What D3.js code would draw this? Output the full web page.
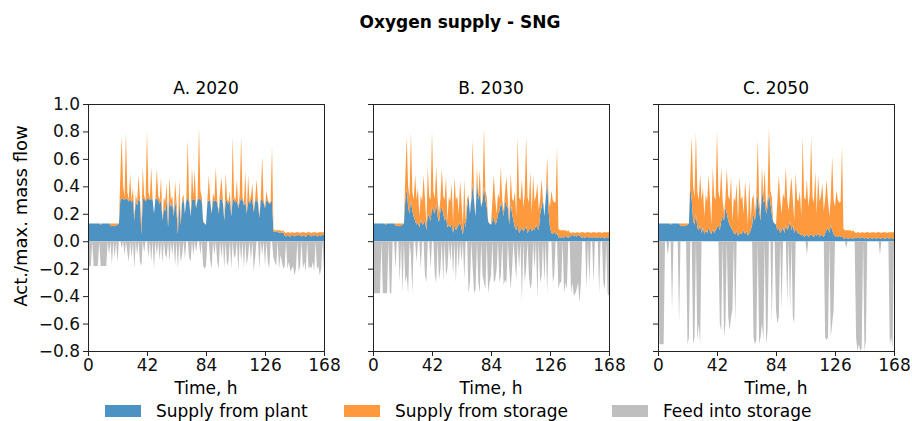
<!DOCTYPE html>
<html>
<head>
<meta charset="utf-8">
<script src="https://cdn.jsdelivr.net/npm/d3@7"></script>
<style>
  body { margin: 0; background: #fff; }
  text { font-family: "DejaVu Sans", sans-serif; }
</style>
</head>
<body>
<svg id="chart" width="912" height="421"></svg>
<script>
// hourly values, hour 0..168
// total oxygen demand (top of the stack), same for all three years
const demand = [
  .13,.13,.13,.13,.13,.13,.13,.13,.13,.13,
  .13,.13,.13,.13,.13,.13,.13,.13,.13,.13,
  .13,.13,.13,.47,.76,.40,.32,.79,.36,.30,
  .49,.30,.39,.18,.34,.29,.48,.31,.12,.54,
  .33,.30,.80,.36,.31,.54,.30,.20,.31,.53,
  .33,.30,.47,.15,.32,.29,.42,.14,.47,.30,
  .33,.20,.44,.29,.12,.45,.15,.31,.34,.20,
  .32,.74,.30,.18,.54,.33,.52,.25,.31,.83,
  .37,.32,.15,.13,.12,.30,.48,.31,.20,.35,
  .31,.54,.30,.22,.36,.47,.30,.15,.50,.31,
  .29,.36,.18,.76,.32,.30,.45,.25,.34,.76,
  .32,.28,.51,.20,.48,.29,.33,.42,.22,.31,
  .45,.30,.18,.32,.62,.30,.25,.37,.30,.28,
  .29,.69,.09,.08,.08,.08,.08,.08,.07,.08,
  .065,.06,.065,.065,.06,.065,.065,.06,.065,.065,
  .065,.06,.065,.065,.065,.06,.065,.065,.065,.06,
  .065,.065,.065,.06,.065,.065,.065,.065,.065
];

// supply from plant
const plant2020 = [
  .13,.13,.13,.13,.13,.13,.13,.13,.13,.12,
  .13,.13,.13,.13,.13,.13,.115,.11,.115,.11,
  .115,.12,.13,.30,.31,.31,.30,.31,.31,.29,
  .31,.28,.31,.15,.30,.26,.31,.29,.05,.31,
  .31,.29,.31,.31,.30,.31,.30,.20,.31,.31,
  .30,.27,.31,.15,.24,.22,.30,.10,.31,.25,
  .28,.18,.30,.22,.05,.30,.12,.28,.31,.20,
  .30,.31,.29,.18,.31,.30,.31,.24,.30,.31,
  .31,.29,.14,.13,.12,.28,.30,.29,.20,.30,
  .29,.30,.28,.20,.30,.31,.28,.15,.30,.29,
  .27,.30,.18,.31,.30,.28,.30,.24,.29,.31,
  .30,.26,.30,.20,.30,.27,.30,.30,.21,.29,
  .30,.28,.17,.30,.30,.28,.24,.30,.29,.27,
  .28,.30,.07,.07,.065,.07,.06,.065,.06,.065,
  .04,.035,.045,.04,.03,.05,.04,.035,.045,.04,
  .05,.04,.035,.045,.04,.03,.045,.05,.04,.035,
  .045,.04,.05,.035,.04,.045,.04,.05,.045
];
const plant2030 = [
  .13,.13,.13,.13,.13,.13,.13,.13,.13,.12,
  .13,.13,.13,.13,.13,.13,.115,.11,.115,.11,
  .115,.12,.13,.30,.38,.25,.20,.30,.22,.18,
  .15,.12,.14,.10,.16,.12,.13,.15,.08,.20,
  .18,.15,.25,.22,.20,.28,.18,.14,.22,.25,
  .20,.15,.18,.10,.12,.10,.13,.06,.12,.08,
  .10,.12,.14,.09,.05,.15,.10,.25,.33,.20,
  .30,.42,.28,.18,.45,.30,.35,.25,.29,.40,
  .30,.25,.14,.13,.12,.15,.18,.12,.14,.20,
  .22,.28,.25,.18,.30,.26,.24,.12,.28,.20,
  .15,.10,.08,.12,.06,.08,.10,.07,.09,.11,
  .06,.08,.10,.07,.09,.08,.12,.10,.08,.20,
  .25,.30,.18,.32,.45,.22,.10,.06,.05,.07,
  .05,.06,.025,.03,.025,.03,.025,.04,.03,.025,
  .03,.04,.05,.035,.045,.03,.05,.04,.03,.025,
  .03,.025,.03,.03,.025,.03,.025,.03,.025,.03,
  .025,.03,.025,.03,.025,.02,.03,.025,.03
];
const plant2050 = [
  .13,.13,.13,.13,.13,.13,.13,.13,.13,.12,
  .13,.13,.13,.13,.13,.13,.115,.11,.115,.11,
  .115,.12,.13,.40,.30,.15,.12,.20,.10,.08,
  .12,.06,.10,.05,.08,.06,.10,.07,.05,.09,
  .06,.08,.10,.12,.08,.15,.18,.15,.25,.20,
  .15,.12,.10,.08,.06,.05,.07,.04,.06,.05,
  .06,.08,.05,.07,.04,.06,.08,.12,.20,.15,
  .25,.35,.22,.15,.40,.28,.30,.20,.25,.35,
  .28,.20,.14,.13,.12,.08,.10,.06,.08,.10,
  .06,.12,.08,.10,.15,.08,.12,.06,.09,.07,
  .05,.06,.04,.05,.03,.04,.05,.03,.04,.05,
  .04,.03,.05,.04,.06,.03,.05,.04,.03,.06,
  .08,.10,.06,.12,.08,.05,.04,.03,.03,.04,
  .03,.04,.02,.02,.025,.02,.02,.025,.02,.02,
  .025,.02,.03,.025,.02,.03,.025,.02,.025,.02,
  .02,.025,.02,.02,.025,.02,.02,.025,.02,.02,
  .025,.02,.02,.025,.02,.02,.025,.02,.02
];

// feed into storage (negative)
const feed2020 = [
  -.18,-.18,-.18,0,-.18,-.18,-.18,-.18,0,-.18,
  -.18,-.18,-.18,-.18,0,-.1,0,-.17,0,-.12,
  0,-.15,0,0,-.05,0,-.1,0,-.08,-.15,
  0,-.12,0,-.2,0,-.1,0,-.15,-.18,0,
  -.08,0,0,-.12,0,-.15,0,-.2,0,-.1,
  0,-.14,0,-.16,0,-.1,-.12,0,-.15,0,
  -.1,0,-.18,0,-.2,0,-.15,-.1,0,-.13,
  0,0,-.12,-.15,0,-.1,0,-.08,0,0,
  -.1,0,-.18,-.2,-.18,0,0,-.14,-.2,0,
  -.1,0,-.15,-.2,0,-.12,0,-.2,0,-.18,
  -.15,0,-.2,0,-.12,-.1,0,-.22,0,-.15,
  0,-.2,0,-.18,-.1,0,-.14,0,-.22,-.12,
  0,0,-.2,0,-.1,0,-.18,0,-.15,-.2,
  0,0,-.12,-.15,-.18,0,-.2,-.1,-.15,-.2,
  -.18,0,-.2,-.15,-.22,-.2,-.18,-.25,-.2,0,
  -.22,-.18,0,-.2,-.15,-.22,0,-.2,-.18,-.2,
  -.15,-.22,0,-.2,-.18,-.25,-.2,0,-.22
];
const feed2030 = [
  -.38,-.38,-.38,-.38,-.38,-.38,0,-.38,-.38,-.38,
  -.38,0,-.38,-.38,0,0,-.2,0,0,-.3,
  0,-.38,0,-.3,-.25,-.38,0,-.1,-.38,0,
  0,-.15,0,0,-.2,0,0,-.25,-.3,0,
  0,-.2,0,0,-.25,-.3,0,-.28,-.2,0,
  -.3,0,-.25,-.2,0,-.15,0,-.25,0,-.3,
  0,-.2,0,-.15,0,-.28,0,0,-.38,-.3,
  0,-.2,-.38,-.35,0,-.3,-.38,0,-.25,-.3,
  -.35,0,-.38,-.3,-.25,0,-.3,-.28,-.2,0,
  -.3,-.25,0,-.32,-.28,-.3,0,-.2,-.35,-.2,
  0,-.15,-.28,0,-.2,0,-.44,0,-.3,-.2,
  0,-.25,-.35,-.3,0,-.2,0,-.42,0,-.3,
  -.25,0,-.3,0,-.38,0,0,0,-.3,-.25,
  0,0,-.35,-.3,-.3,0,-.38,-.3,-.35,0,
  0,-.38,-.3,-.4,-.38,-.35,-.3,-.45,-.3,0,
  0,0,-.35,0,-.3,0,0,-.3,0,0,
  0,-.38,0,0,-.3,-.35,0,-.38,-.4
];
const feed2050 = [
  0,-.75,-.75,-.75,-.75,0,0,-.1,0,0,
  -.5,0,0,0,0,-.6,0,0,0,0,
  0,-.75,-.7,0,0,-.75,-.7,0,-.72,-.6,
  -.75,0,0,0,0,0,0,0,0,0,
  0,0,0,0,-.6,-.65,0,-.7,-.6,0,
  -.55,-.65,-.55,-.5,0,-.6,0,0,0,0,
  0,0,0,0,0,0,0,0,-.7,-.75,
  -.72,0,-.75,-.7,-.6,-.72,0,-.75,-.65,0,
  0,-.6,0,0,-.5,-.6,-.55,0,-.5,0,
  0,0,-.45,0,-.5,0,-.55,-.6,0,0,
  0,0,0,0,0,0,-.1,0,0,0,
  0,0,0,0,0,0,0,0,0,-.7,
  -.72,-.7,0,-.7,-.6,-.5,0,0,0,0,
  0,0,0,0,-.05,0,0,0,0,0,
  0,-.7,-.8,-.75,-.8,-.78,0,-.8,-.72,0,
  0,0,0,0,0,0,0,0,-.1,0,
  0,0,0,0,0,-.75,-.7,-.78,0
];

const panelTitles = ['A. 2020', 'B. 2030', 'C. 2050'];
const xTicks = [0, 42, 84, 126, 168];
const yTicks = [-0.8, -0.6, -0.4, -0.2, 0.0, 0.2, 0.4, 0.6, 0.8, 1.0];
const legendLabels = ['Supply from plant', 'Supply from storage', 'Feed into storage'];

const colors = {plant: '#4c92c3', storage: '#ff993e', feed: '#bfbfbf'};

const svg = d3.select('#chart');
const fontSize = 17;

// panel geometry
const panelTop = 104, height = 247, width = 236;
const lefts = [88, 373, 658];

const x = d3.scaleLinear().domain([0, 168]).range([0, width]);
const y = d3.scaleLinear().domain([-0.8, 1.0]).range([height, 0]);

svg.append('text')
    .attr('x', 460)
    .attr('y', 28)
    .attr('text-anchor', 'middle')
    .style('font-size', fontSize + 'px')
    .style('font-weight', 'bold')
    .text('Oxygen supply - SNG');

const panels = [
    {plant: plant2020, feed: feed2020},
    {plant: plant2030, feed: feed2030},
    {plant: plant2050, feed: feed2050}
];

panels.forEach((p, k) => {
    const g = svg.append('g')
        .attr('transform', 'translate(' + lefts[k] + ',' + panelTop + ')');

    const plantArea = d3.area()
        .x((d, i) => x(i))
        .y0(y(0))
        .y1(d => y(d));

    const storageArea = d3.area()
        .x((d, i) => x(i))
        .y0((d, i) => y(p.plant[i]))
        .y1(d => y(d));

    g.append('path')
        .attr('d', plantArea(p.plant))
        .attr('fill', colors.plant);

    g.append('path')
        .attr('d', storageArea(demand))
        .attr('fill', colors.storage);

    g.append('path')
        .attr('d', plantArea(p.feed))
        .attr('fill', colors.feed);

    // axes
    const yAxis = d3.axisLeft(y)
        .tickValues(yTicks)
        .tickSize(5)
        .tickPadding(3)
        .tickFormat(k === 0 ? d3.format('.1f') : '');
    const xAxis = d3.axisBottom(x)
        .tickValues(xTicks)
        .tickSize(5)
        .tickPadding(3);

    const ya = g.append('g').call(yAxis);
    const xa = g.append('g').attr('transform', 'translate(0,' + height + ')').call(xAxis);
    [ya, xa].forEach(a => {
        a.select('.domain').remove();
        a.selectAll('line').attr('stroke', '#222').attr('stroke-width', 1);
        a.selectAll('text')
            .attr('fill', '#111')
            .style('font-size', fontSize + 'px')
            .style('font-family', '"DejaVu Sans", sans-serif');
    });

    // frame
    g.append('rect')
        .attr('x', 0.5)
        .attr('y', 0.5)
        .attr('width', width)
        .attr('height', height)
        .attr('fill', 'none')
        .attr('stroke', '#222')
        .attr('stroke-width', 1);

    g.append('text')
        .attr('x', width / 2)
        .attr('y', -10)
        .attr('text-anchor', 'middle')
        .style('font-size', fontSize + 'px')
        .text(panelTitles[k]);

    g.append('text')
        .attr('x', width / 2)
        .attr('y', height + 43)
        .attr('text-anchor', 'middle')
        .style('font-size', fontSize + 'px')
        .text('Time, h');
});

svg.append('text')
    .attr('transform', 'translate(27,216) rotate(-90)')
    .attr('text-anchor', 'middle')
    .style('font-size', '18px')
    .text('Act./max. mass flow');

// legend
const legendX = [105, 344, 612];
const legendColors = [colors.plant, colors.storage, colors.feed];
legendLabels.forEach((label, i) => {
    svg.append('rect')
        .attr('x', legendX[i])
        .attr('y', 405)
        .attr('width', 36)
        .attr('height', 12)
        .attr('fill', legendColors[i]);
    svg.append('text')
        .attr('x', legendX[i] + 51)
        .attr('y', 417)
        .style('font-size', fontSize + 'px')
        .text(label);
});
</script>
</body>
</html>
